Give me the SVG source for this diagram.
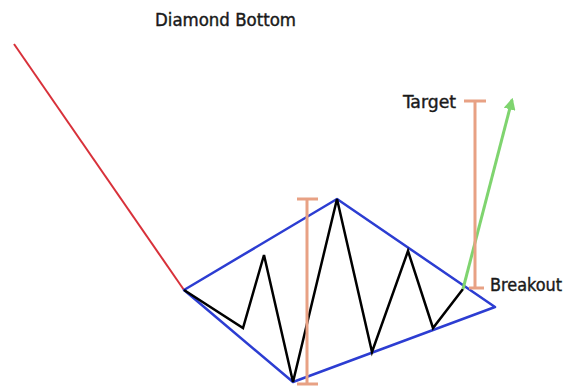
<svg xmlns="http://www.w3.org/2000/svg" width="565" height="390" viewBox="0 0 565 390">
<style>
.t{font-family:"DejaVu Sans Condensed","DejaVu Sans",sans-serif;font-size:18px;fill:#1a1a1a;stroke:#1a1a1a;stroke-width:0.4}
.bar{stroke:#e8a184;stroke-width:3;fill:none}
</style>
<defs>
<marker id="ga" viewBox="0 0 10 10" refX="8" refY="5" markerWidth="4" markerHeight="4" orient="auto"><path d="M0,0 L10,5 L0,10 z" fill="#7fd46f"/></marker>
</defs>
<rect width="565" height="390" fill="#fff"/>
<g id="title"><text class="t" x="155" y="26" textLength="141" lengthAdjust="spacingAndGlyphs">Diamond Bottom</text></g>
<g id="connectors">
<line x1="14" y1="44" x2="184" y2="290" stroke="#d8313a" stroke-width="2"/>
<polygon points="184,290 337,199 495,307 293,382" fill="none" stroke="#2c3dd2" stroke-width="2.5" stroke-linejoin="round"/>
<polyline points="184,290 243,328 264,255 293,382 337,199 372,352 408,251 433,328 463,289" fill="none" stroke="#000" stroke-width="2.5" stroke-linejoin="miter"/>
<line x1="463" y1="289" x2="512" y2="100" stroke="#7fd46f" stroke-width="3" marker-end="url(#ga)"/>
</g>
<g id="range1">
<path class="bar" d="M297,199 H318 M307,199 V384 M297,384 H318"/>
</g>
<g id="range2">
<path class="bar" d="M464,101 H486 M475,101 V288 M469,288 H484"/>
</g>
<g id="target"><text class="t" x="403" y="108" textLength="53" lengthAdjust="spacingAndGlyphs">Target</text></g>
<g id="breakout"><text class="t" x="490" y="291" textLength="72" lengthAdjust="spacingAndGlyphs">Breakout</text></g>
</svg>
